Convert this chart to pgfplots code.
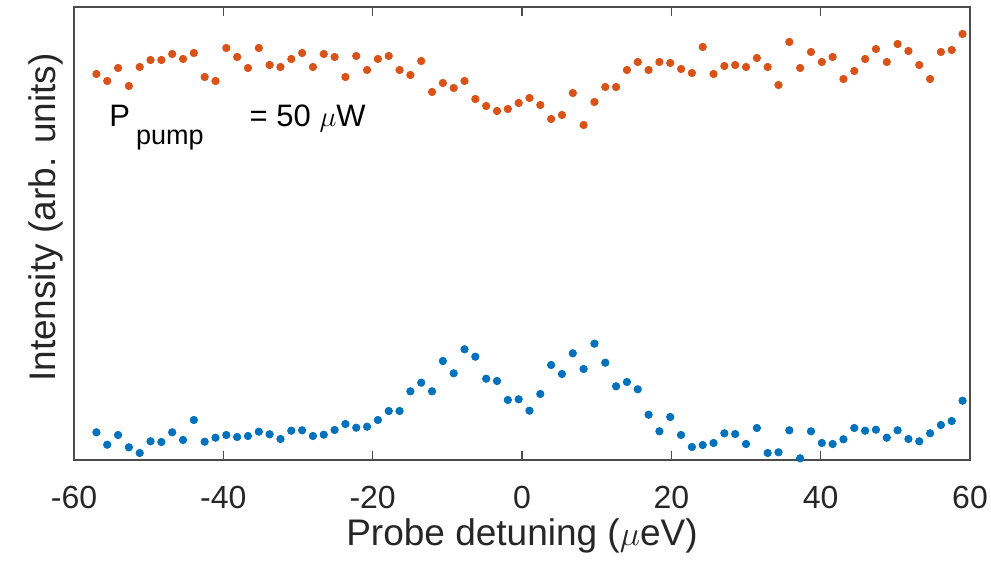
\documentclass[border=0pt]{standalone}
\usepackage{pgfplots}
\pgfplotsset{compat=1.18}
\usepackage{pgfplotstable}
\usepackage{fontspec}
\setmainfont{Liberation Sans}
\definecolor{mblue}{rgb}{0,0.447,0.741}
\definecolor{morange}{rgb}{0.85,0.325,0.098}

\pgfplotstableread{
x y
-57.00 386
-55.55 379
-54.10 392
-52.65 374
-51.20 393
-49.75 400
-48.30 400
-46.85 406
-45.40 401
-43.95 407
-42.50 383
-41.05 379
-39.60 412
-38.15 403
-36.70 392
-35.25 412
-33.80 395
-32.35 393
-30.90 401
-29.45 407
-28.00 393
-26.55 406
-25.10 403
-23.65 383
-22.20 404
-20.75 390
-19.30 401
-17.85 404
-16.40 390
-14.95 385
-13.50 399
-12.05 368
-10.60 377
-9.15 372
-7.70 379
-6.25 361
-4.80 354
-3.35 349
-1.90 351
-0.45 357
1.00 362
2.45 355
3.90 341
5.35 345
6.80 367
8.25 335
9.70 358
11.15 373
12.60 373
14.05 390
15.50 398
16.95 390
18.40 398
19.85 397
21.30 391
22.75 387
24.20 413
25.65 386
27.10 394
28.55 395
30.00 393
31.45 402
32.90 393
34.35 375
35.80 418
37.25 392
38.70 408
40.15 398
41.60 403
43.05 381
44.50 389
45.95 401
47.40 411
48.85 398
50.30 416
51.75 409
53.20 395
54.65 381
56.10 408
57.55 410
59.00 426
}\orangedata

\pgfplotstableread{
x y
-57.00 27.7
-55.55 15.3
-54.10 25
-52.65 12.7
-51.20 7
-49.75 18.7
-48.30 18
-46.85 27.7
-45.40 20
-43.95 40
-42.50 18.3
-41.05 22.3
-39.60 25
-38.15 23
-36.70 24
-35.25 28.3
-33.80 25.7
-32.35 21
-30.90 29.3
-29.45 29.7
-28.00 24
-26.55 25.3
-25.10 30
-23.65 36
-22.20 32.3
-20.75 33.3
-19.30 40
-17.85 49
-16.40 49
-14.95 68.7
-13.50 77.3
-12.05 68.7
-10.60 99
-9.15 86.7
-7.70 110.7
-6.25 103.3
-4.80 81.3
-3.35 79
-1.90 60
-0.45 60.7
1.00 49.3
2.45 66
3.90 95
5.35 86
6.80 106.7
8.25 91
9.70 116.3
11.15 97.3
12.60 73.7
14.05 78
15.50 70.7
16.95 45.3
18.40 28.7
19.85 43
21.30 25
22.75 13
24.20 15
25.65 17
27.10 26.7
28.55 26
30.00 16
31.45 32
32.90 7
34.35 7.7
35.80 29.7
37.25 1.7
38.70 28.7
40.15 17
41.60 16
43.05 20.7
44.50 32
45.95 29.3
47.40 30.3
48.85 22.3
50.30 29.7
51.75 21
53.20 18.7
54.65 26.7
56.10 35
57.55 39
59.00 59.3
}\bluedata

\begin{document}
\begin{tikzpicture}
\useasboundingbox (-37bp,-52bp) rectangle (458.5bp,230bp);
\begin{axis}[
  at={(0,0)}, anchor=south west,
  scale only axis,
  width=448bp, height=226.5bp,
  xmin=-60, xmax=60, ymin=0, ymax=453,
  xtick={-60,-40,-20,0,20,40,60},
  xticklabels={-60,-40,-20,0,20,40,60},
  ytick=\empty,
  tick align=inside,
  major tick length=4.5bp,
  axis line style={black!70, line width=0.6bp},
  every tick/.style={black!70, line width=0.6bp},
  x tick label style={anchor=base, yshift=-24bp, font=\fontsize{16bp}{19bp}\selectfont, text=black!85},
  xlabel={Probe detuning ($\mu$eV)},
  xlabel style={at={(axis description cs:0.5,0)}, anchor=base, yshift=-42.5bp, font=\fontsize{18.5bp}{22bp}\selectfont, text=black!85},
  ylabel={Intensity (arb. units)},
  ylabel style={at={(axis description cs:-0.0212,0.535)}, anchor=base, rotate=0, font=\fontsize{18.5bp}{22bp}\selectfont, text=black!85},
  clip=false,
]
\addplot[only marks, mark=*, mark size=1.85bp, color=morange, mark options={draw=morange, fill=morange}] table[x=x,y=y] {\orangedata};
\addplot[only marks, mark=*, mark size=1.85bp, color=mblue, mark options={draw=mblue, fill=mblue}] table[x=x,y=y] {\bluedata};
\node[anchor=base west, inner sep=0, font=\fontsize{15.5bp}{18bp}\selectfont] at (axis cs:-55.3,333)
  {P\hspace{3bp}{\fontsize{13.5bp}{16bp}\selectfont\raisebox{-9bp}{pump}}\hspace{23bp}= 50 $\mu$W};
\end{axis}
\end{tikzpicture}
\end{document}
